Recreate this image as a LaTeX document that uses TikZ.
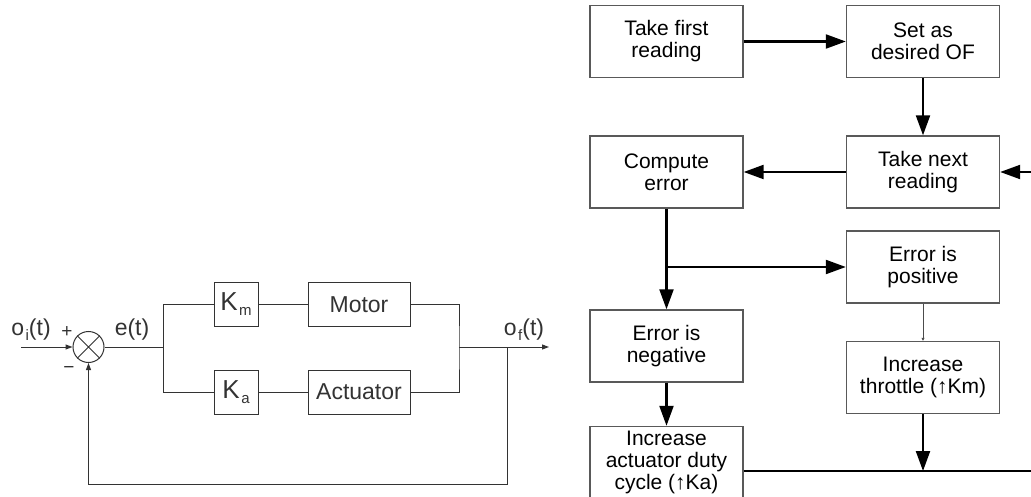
\documentclass[tikz,border=0pt]{standalone}
\usepackage{fontspec}
\setmainfont{Liberation Sans}
\usetikzlibrary{arrows.meta,positioning}

% pedice staccato, come nello schema originale
\newcommand{\ped}[1]{\hspace{1.5pt}\raisebox{-5pt}{\fontsize{15}{15}\selectfont #1}}

\begin{document}
\begin{tikzpicture}[x=1pt, y=-1pt, line width=1pt,
    passo/.style={draw=black!65, line width=1.4pt, minimum width=153pt, minimum height=72pt,
                  inner sep=0pt, align=center, font=\fontsize{21}{22}\selectfont},
    blocco/.style={draw=black!80, line width=1pt, minimum height=44pt, inner sep=0pt,
                   font=\fontsize{23}{23}\selectfont},
    etichetta/.style={inner sep=0pt, font=\fontsize{23}{23}\selectfont},
    freccia/.style={line width=2.2pt, -{Triangle[length=20pt,width=14pt]}},
    segnale/.style={line width=1pt, -{Triangle[length=7pt,width=5pt]}}]

    \useasboundingbox (0,0) rectangle (1031,497);
    \clip (0,0) rectangle (1031,497);

    % -- Parte Sinistra: schema a blocchi --
    \begin{scope}[black!80]
    \node[circle, draw, minimum size=31pt, inner sep=0pt] (somma) at (88.5,347) {};
    \draw (somma.north west) -- (somma.south east)
          (somma.north east) -- (somma.south west);

    \node[blocco, minimum width=44pt] (km) at (236,304.5)
        {{\fontsize{26}{26}\selectfont K}\ped{m}};
    \node[blocco, minimum width=102pt] (motore) at (359,304.5) {Motor};
    \node[blocco, minimum width=44pt] (ka) at (236,392)
        {{\fontsize{26}{26}\selectfont K}\ped{a}};
    \node[blocco, minimum width=102pt] (attuat) at (359,392) {Actuator};

    \coordinate (ingresso) at (21,347);
    \coordinate (diram) at (163,347);
    \coordinate (unione) at (459,347);
    \coordinate (presa) at (507,347);
    \coordinate (uscita) at (549,347);
    \coordinate (fondo) at (88.5,484);

    \node[etichetta] (oi) at (31,330) {o\ped{i}(t)};
    \node[etichetta] (et) at (132,330) {e(t)};
    \node[etichetta] (of) at (524,330) {o\ped{f}(t)};
    \node[inner sep=0pt, font=\fontsize{19}{19}\selectfont] (piu) at (67,332) {+};
    \node[inner sep=0pt, font=\fontsize{19}{19}\selectfont] (meno) at (69,370) {−};

    \draw[segnale] (ingresso) -- (somma.west);
    \draw (somma.east) -- (diram) |- (km.west);
    \draw (diram) |- (ka.west);
    \draw (km) -- (motore);
    \draw (ka) -- (attuat);
    \draw (motore.east) -| (unione) |- (attuat.east);
    \draw[segnale] (unione) -- (uscita);
    \draw[segnale] (presa) |- (fondo) -- (somma.south);
    \end{scope}

    % -- Parte Destra: diagramma di flusso --
    \node[passo] (prima) at (666.5,41.5) {Take first\\reading};
    \node[passo] (imposta) at (923,41.5) {Set as\\desired OF};
    \node[passo] (calcola) at (666.5,172) {Compute\\error};
    \node[passo] (prossima) at (923,172) {Take next\\reading};
    \node[passo] (positivo) at (923,267) {Error is\\positive};
    \node[passo] (negativo) at (666.5,346) {Error is\\negative};
    \node[passo] (gas) at (923,377.5) {Increase\\throttle (↑Km)};
    \node[passo] (duty) at (666.5,462.5) {Increase\\actuator duty\\cycle (↑Ka)};

    \coordinate (bivio) at (666.5,267);
    \coordinate (linea) at (923,471);
    \coordinate (destra) at (1045,471);
    \coordinate (rientro) at (1045,172);

    \draw[freccia] (prima) -- (imposta);
    \draw[freccia] (imposta) -- (prossima);
    \draw[freccia] (prossima) -- (calcola);
    \draw[freccia] (calcola) -- (negativo);
    \draw[freccia] (bivio) -- (positivo);
    \draw[black!70, line width=0.8pt, -{Triangle[length=3pt,width=3pt]}] (positivo) -- (gas);
    \draw[freccia] (gas) -- (linea);
    \draw[freccia] (negativo) -- (duty);
    \draw[line width=2.2pt] (duty.east |- linea) -- (destra) -- (rientro);
    \draw[freccia] (rientro) -- (prossima);
\end{tikzpicture}
\end{document}
